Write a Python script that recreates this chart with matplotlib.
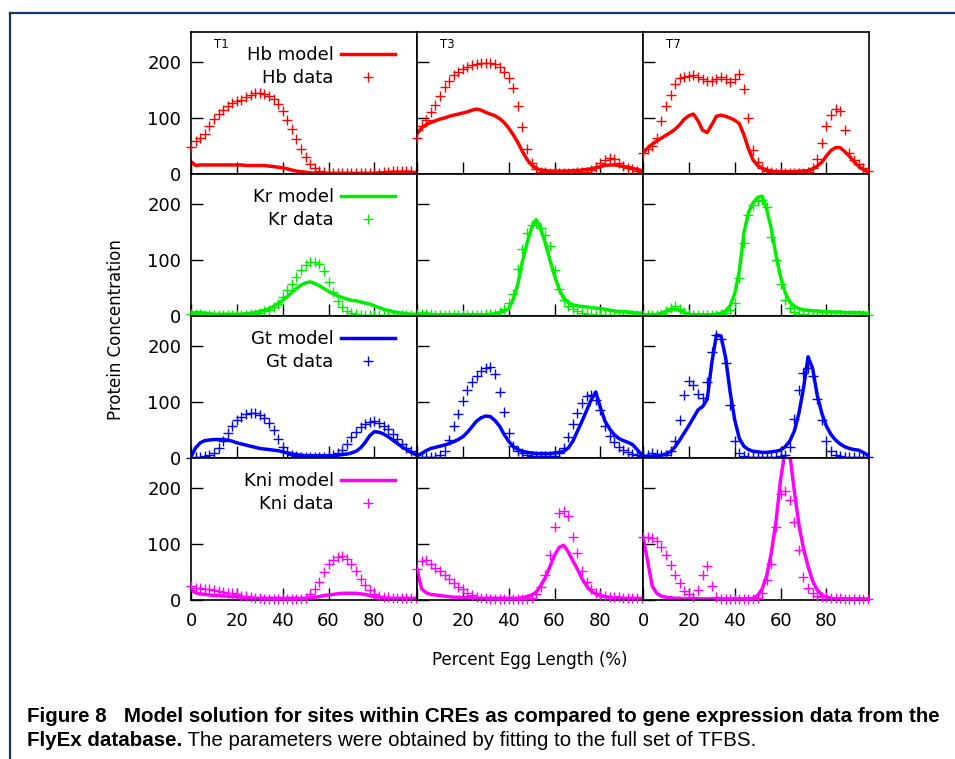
import numpy as np
import matplotlib
matplotlib.use("Agg")
import matplotlib.pyplot as plt
from matplotlib.lines import Line2D
from matplotlib import font_manager

# posiciones a lo largo del embrion (% de longitud), cada 2 %
egg_pos = np.arange(0, 100, 2)

panel_names = ["T1", "T3", "T7"]
gene_names = ["Hb", "Kr", "Gt", "Kni"]
gene_colors = ["#ff0000", "#00ee00", "#0000ff", "#ff00ff"]

# ---- Hb ----
hb_t1_model = [22, 15, 16, 16, 16, 16, 16, 16, 16, 16,
               16, 16, 15, 15, 15, 15, 15, 14, 13, 12,
               11, 9, 7, 5, 4, 3, 2, 1, 1, 1,
               1, 1, 1, 1, 1, 1, 1, 1, 1, 1,
               1, 2, 2, 3, 3, 3, 3, 3, 3, 2]
hb_t1_data = [48, 58, 65, 72, 85, 98, 108, 115, 121, 126,
              130, 133, 137, 141, 144, 145, 143, 140, 134, 125,
              112, 97, 80, 62, 45, 30, 18, 10, 5, 3,
              2, 1, 1, 1, 1, 1, 1, 1, 1, 2,
              2, 2, 3, 4, 5, 5, 6, 6, 5, 4]
hb_t3_model = [72, 82, 88, 92, 95, 98, 100, 103, 105, 107,
               109, 111, 114, 116, 114, 110, 107, 104, 99, 92,
               82, 70, 56, 40, 26, 16, 10, 7, 6, 5,
               5, 5, 5, 5, 6, 6, 7, 8, 9, 11,
               13, 15, 16, 16, 15, 13, 12, 10, 8, 6]
hb_t3_data = [65, 85, 97, 110, 123, 140, 155, 167, 176, 182,
              187, 191, 194, 196, 198, 198, 198, 196, 192, 183,
              172, 153, 121, 84, 45, 20, 9, 4, 3, 2,
              2, 2, 2, 2, 2, 3, 3, 4, 7, 12,
              20, 25, 28, 27, 20, 14, 10, 8, 6, 4]
hb_t7_model = [38, 46, 53, 59, 64, 69, 74, 80, 88, 98,
               104, 107, 95, 78, 74, 88, 103, 105, 103, 100,
               96, 90, 70, 45, 25, 15, 10, 7, 5, 4,
               4, 4, 4, 4, 5, 5, 6, 9, 14, 21,
               32, 42, 47, 47, 40, 32, 22, 14, 8, 4]
hb_t7_data = [37, 44, 50, 65, 95, 122, 141, 160, 171, 174,
              175, 176, 173, 169, 167, 167, 170, 174, 169, 165,
              170, 178, 152, 100, 42, 22, 10, 5, 3, 2,
              2, 2, 2, 2, 2, 2, 3, 10, 26, 55,
              85, 106, 116, 112, 78, 38, 25, 17, 11, 5]

# ---- Kr ----
kr_t1_model = [5, 6, 6, 5, 4, 3, 3, 3, 3, 3,
               3, 3, 4, 5, 6, 8, 10, 13, 17, 22,
               28, 35, 42, 49, 55, 59, 61, 58, 54, 49,
               44, 40, 36, 33, 30, 28, 27, 25, 23, 21,
               18, 15, 12, 10, 8, 6, 5, 4, 3, 3]
kr_t1_data = [3, 3, 3, 2, 2, 2, 2, 2, 2, 2,
              2, 2, 2, 3, 4, 6, 8, 11, 16, 22,
              33, 46, 58, 70, 82, 91, 96, 97, 92, 80,
              60, 42, 27, 16, 9, 5, 3, 2, 2, 1,
              1, 1, 1, 1, 1, 1, 1, 1, 1, 1]
kr_t3_model = [3, 4, 4, 3, 2, 2, 2, 2, 2, 2,
               2, 2, 2, 2, 2, 2, 3, 4, 6, 9,
               13, 30, 57, 98, 130, 158, 172, 155, 130, 100,
               72, 48, 32, 24, 20, 18, 17, 16, 15, 14,
               13, 12, 10, 9, 8, 8, 7, 6, 5, 5]
kr_t3_data = [3, 3, 3, 3, 2, 2, 2, 2, 2, 2,
              2, 2, 2, 2, 2, 3, 3, 4, 7, 12,
              23, 40, 84, 120, 148, 162, 166, 158, 145, 125,
              82, 48, 28, 18, 12, 8, 5, 4, 3, 2,
              2, 2, 2, 2, 2, 2, 2, 2, 2, 2]
kr_t7_model = [2, 2, 2, 3, 5, 8, 11, 12, 10, 6,
               3, 2, 2, 2, 2, 2, 3, 5, 9, 18,
               40, 80, 148, 185, 202, 212, 214, 190, 155, 109,
               70, 42, 25, 17, 13, 11, 10, 9, 9, 8,
               8, 7, 7, 7, 6, 6, 6, 6, 5, 5]
kr_t7_data = [1, 1, 1, 2, 4, 9, 15, 17, 13, 7,
              3, 2, 1, 1, 1, 1, 2, 3, 5, 10,
              23, 67, 130, 180, 199, 205, 207, 195, 142, 100,
              58, 28, 14, 7, 4, 3, 2, 2, 2, 2,
              2, 2, 2, 2, 2, 2, 2, 2, 2, 2]

# ---- Gt ----
gt_t1_model = [2, 18, 27, 31, 32, 33, 33, 33, 32, 30,
               27, 25, 23, 21, 19, 17, 16, 15, 14, 13,
               11, 9, 7, 6, 5, 4, 4, 4, 4, 4,
               4, 4, 5, 6, 7, 9, 12, 18, 28, 40,
               47, 46, 43, 38, 32, 26, 20, 15, 10, 6]
gt_t1_data = [0, 1, 2, 3, 5, 9, 17, 30, 44, 57,
              67, 74, 78, 80, 80, 77, 72, 62, 50, 34,
              20, 11, 6, 3, 2, 1, 1, 1, 1, 2,
              3, 5, 9, 15, 25, 37, 47, 55, 61, 64,
              66, 63, 58, 51, 43, 34, 25, 18, 13, 9]
gt_t3_model = [4, 8, 13, 17, 19, 21, 23, 26, 29, 33,
               38, 46, 56, 66, 72, 75, 74, 67, 57, 42,
               30, 20, 15, 12, 10, 9, 8, 8, 8, 8,
               9, 10, 12, 18, 30, 48, 66, 85, 104, 118,
               90, 66, 52, 42, 35, 31, 28, 24, 15, 6]
gt_t3_data = [0, 1, 1, 1, 2, 5, 12, 33, 57, 78,
              102, 122, 136, 147, 155, 161, 162, 150, 118, 82,
              44, 22, 13, 8, 5, 4, 3, 3, 3, 3,
              4, 8, 18, 38, 60, 80, 98, 110, 112, 104,
              86, 58, 40, 28, 20, 14, 10, 7, 5, 3]
gt_t7_model = [3, 3, 3, 4, 5, 7, 11, 20, 32, 45,
               58, 72, 86, 92, 105, 170, 220, 218, 180, 118,
               68, 35, 21, 15, 12, 11, 10, 10, 11, 12,
               14, 20, 30, 48, 80, 125, 181, 160, 112, 80,
               57, 42, 32, 25, 20, 17, 15, 14, 10, 5]
gt_t7_data = [5, 6, 8, 7, 6, 5, 12, 30, 68, 112,
              137, 130, 115, 108, 135, 190, 220, 212, 170, 95,
              30, 8, 3, 2, 2, 2, 2, 2, 2, 2,
              3, 6, 20, 70, 122, 152, 160, 146, 105, 68,
              30, 12, 6, 3, 2, 2, 2, 2, 2, 2]

# ---- Kni ----
kni_t1_model = [18, 13, 11, 10, 9, 8, 8, 7, 7, 6,
                6, 5, 4, 4, 3, 3, 3, 3, 3, 3,
                3, 3, 3, 3, 3, 3, 4, 5, 6, 8,
                9, 10, 11, 12, 12, 12, 12, 11, 10, 8,
                6, 5, 4, 3, 3, 3, 3, 3, 3, 3]
kni_t1_data = [25, 22, 21, 20, 19, 18, 16, 15, 13, 12,
               10, 8, 7, 5, 4, 3, 2, 2, 2, 2,
               2, 2, 2, 2, 2, 4, 10, 20, 33, 50,
               64, 72, 76, 78, 74, 65, 52, 38, 26, 17,
               11, 8, 6, 5, 4, 4, 3, 3, 3, 3]
kni_t3_model = [55, 20, 13, 10, 9, 8, 7, 6, 5, 5,
                4, 4, 4, 3, 3, 3, 3, 3, 3, 3,
                3, 3, 3, 4, 6, 9, 14, 26, 40, 60,
                80, 94, 98, 86, 70, 55, 38, 25, 16, 11,
                8, 6, 5, 4, 4, 3, 3, 3, 3, 3]
kni_t3_data = [55, 70, 72, 65, 58, 51, 44, 37, 30, 24,
               19, 13, 9, 6, 4, 3, 2, 2, 2, 2,
               2, 2, 2, 2, 2, 4, 10, 24, 45, 80,
               130, 155, 160, 150, 112, 84, 52, 32, 20, 13,
               9, 7, 6, 5, 5, 4, 4, 3, 3, 3]
kni_t7_model = [112, 70, 25, 12, 7, 5, 4, 3, 3, 2,
                2, 2, 2, 2, 2, 2, 2, 2, 2, 2,
                2, 2, 2, 2, 3, 8, 20, 44, 85, 140,
                215, 268, 262, 195, 135, 92, 60, 34, 18, 9,
                5, 3, 2, 2, 2, 2, 2, 2, 2, 2]
kni_t7_data = [112, 112, 111, 105, 95, 80, 62, 45, 30, 16,
               10, 6, 18, 45, 60, 25, 6, 2, 2, 2,
               2, 2, 2, 2, 2, 3, 12, 35, 65, 130,
               190, 195, 178, 140, 90, 42, 22, 13, 8, 6,
               5, 4, 3, 3, 2, 2, 2, 2, 2, 2]

series = [
    [(hb_t1_model, hb_t1_data), (hb_t3_model, hb_t3_data), (hb_t7_model, hb_t7_data)],
    [(kr_t1_model, kr_t1_data), (kr_t3_model, kr_t3_data), (kr_t7_model, kr_t7_data)],
    [(gt_t1_model, gt_t1_data), (gt_t3_model, gt_t3_data), (gt_t7_model, gt_t7_data)],
    [(kni_t1_model, kni_t1_data), (kni_t3_model, kni_t3_data), (kni_t7_model, kni_t7_data)],
]

plt.rcParams['font.family'] = ['DejaVu Sans']

fig = plt.figure(figsize=(9.55, 7.59), dpi=100)
axes = fig.subplots(4, 3, sharex=True, sharey=True,
                    gridspec_kw=dict(left=0.2, right=0.910, top=0.958, bottom=0.2095,
                                     hspace=0, wspace=0))

for r in range(4):
    color = gene_colors[r]
    for c in range(3):
        ax = axes[r][c]
        model, data = series[r][c]
        ax.plot(egg_pos, model, color=color, lw=2.5, solid_joinstyle='round',
                label=gene_names[r] + " model", zorder=2)
        ax.plot(egg_pos, data, ls='none', marker='+', ms=6.5, mew=1.0, color=color,
                label=gene_names[r] + " data", clip_on=False, zorder=3)
        ax.set_xlim(0, 98.6)
        ax.set_ylim(0, 254)
        ax.set_xticks([0, 20, 40, 60, 80])
        ax.set_yticks([0, 100, 200])
        ax.tick_params(direction='in', length=8.5, width=1.0, labelsize=13,
                       top=False, right=False)
        ax.tick_params(axis='x', pad=9)
        ax.tick_params(axis='y', pad=7)
        for s in ax.spines.values():
            s.set_linewidth(1.2)
        if r == 0:
            ax.text(0.1, 0.91, panel_names[c], transform=ax.transAxes,
                    fontsize=8.5, ha='left', va='center')
        if c == 0:
            ax.legend(loc='upper right', bbox_to_anchor=(0.903, 0.9), frameon=False,
                      fontsize=13, markerfirst=False, numpoints=1, handlelength=3.0,
                      handletextpad=0.4, labelspacing=0.28, borderpad=0, borderaxespad=0)

fig.text(116 / 955, 1 - 330 / 759, "Protein Concentration", rotation=90,
         ha='center', va='center', fontsize=12)
fig.text(530 / 955, 1 - 660 / 759, "Percent Egg Length (%)",
         ha='center', va='center', fontsize=12)

# marco azul de la figura
navy = "#12386b"
fig.add_artist(Line2D([10 / 955, 1], [1 - 13 / 759, 1 - 13 / 759], color=navy, lw=1.6,
                      transform=fig.transFigure))
fig.add_artist(Line2D([10 / 955, 10 / 955], [0, 1 - 13 / 759], color=navy, lw=1.6,
                      transform=fig.transFigure))

# leyenda de la figura (pie)
names = {f.name for f in font_manager.fontManager.ttflist}
cap_font = 'Liberation Sans Narrow' if 'Liberation Sans Narrow' in names else 'Liberation Sans'
line1 = "Figure 8   Model solution for sites within CREs as compared to gene expression data from the"
line2_bold = "FlyEx database."
line2_rest = " The parameters were obtained by fitting to the full set of TFBS."

fig.canvas.draw()
rend = fig.canvas.get_renderer()
x0 = 27 / 955
cap1 = fig.text(x0, 1 - 717 / 759, line1, fontweight='bold', fontsize=13,
                family=cap_font, ha='left', va='center')
w = cap1.get_window_extent(rend).width
size = 13 * 913 / w
cap1.set_fontsize(size)
cap2 = fig.text(x0, 1 - 741 / 759, line2_bold, fontweight='bold', fontsize=size,
                family=cap_font, ha='left', va='center')
w2 = cap2.get_window_extent(rend).width
fig.text(x0 + w2 / 955, 1 - 741 / 759, line2_rest, fontsize=size,
         family=cap_font, ha='left', va='center')

plt.savefig("out.png", dpi=100)
